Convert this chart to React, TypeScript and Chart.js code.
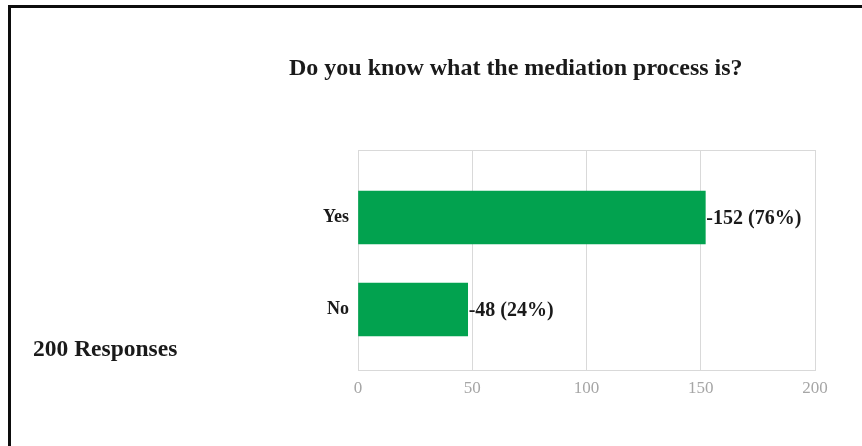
import React, { useEffect, useRef } from "react";
import { Chart, registerables } from "chart.js";

Chart.register(...registerables);

const titleText = "Do you know what the mediation process is?";
const responsesText = "200 Responses";
const categories = ["Yes", "No"];
const counts = [152, 48];
const percents = [76, 24];
const xMin = 0;
const xMax = 200;
const xStep = 50;

const SERIF = '"Liberation Serif", "Times New Roman", serif';
const GRID = "#d9d9d9";
const GREEN = "#02a24f";

const valueLabels = {
  id: "valueLabels",
  afterDatasetsDraw(chart: any) {
    const ctx = chart.ctx;
    const meta = chart.getDatasetMeta(0);
    ctx.save();
    ctx.font = `bold 20px ${SERIF}`;
    ctx.fillStyle = "#1a1a1a";
    ctx.textAlign = "left";
    ctx.textBaseline = "middle";
    meta.data.forEach((bar: any, i: number) => {
      ctx.fillText(`-${counts[i]} (${percents[i]}%)`, bar.x + 1, bar.y + 1);
    });
    ctx.restore();
  },
};

export default function App() {
  const ref = useRef<HTMLCanvasElement | null>(null);

  useEffect(() => {
    if (!ref.current) return;
    const chart = new Chart(ref.current, {
      type: "bar",
      data: {
        datasets: [
          {
            data: counts.map((v, i) => ({ x: v, y: i })),
            backgroundColor: GREEN,
            borderWidth: 0,
            barThickness: 53,
          },
        ],
      },
      plugins: [valueLabels],
      options: {
        indexAxis: "y",
        responsive: false,
        animation: false,
        layout: { padding: { top: 150, right: 47, bottom: 46, left: 0 } },
        plugins: {
          legend: { display: false },
          title: { display: false },
          tooltip: { enabled: false },
        },
        scales: {
          x: {
            type: "linear",
            min: xMin,
            max: xMax,
            ticks: {
              stepSize: xStep,
              color: "#a6a6a6",
              font: { family: SERIF, size: 17 },
              padding: 8,
            },
            grid: { color: GRID, drawTicks: false },
            border: { display: true, color: GRID },
            afterFit: (s: any) => {
              s.height = 30;
            },
          },
          y: {
            type: "linear",
            reverse: true,
            offset: false,
            min: -0.734,
            max: 1.658,
            afterBuildTicks: (s: any) => {
              s.ticks = [s.min, ...categories.map((_, i) => i), s.max].map((v) => ({ value: v }));
            },
            ticks: {
              autoSkip: false,
              color: "#1a1a1a",
              font: { family: SERIF, size: 18, weight: "bold" },
              padding: 9,
              callback: (v: any) => (Number.isInteger(v) ? categories[v] ?? "" : ""),
            },
            grid: {
              offset: false,
              drawTicks: false,
              color: (c: any) =>
                c.tick && Number.isInteger(c.tick.value) ? "rgba(0,0,0,0)" : GRID,
            },
            border: { display: true, color: GRID },
            afterFit: (s: any) => {
              s.width = 358;
            },
          },
        },
      },
    } as any);
    return () => chart.destroy();
  }, []);

  return (
    <div
      style={{
        position: "absolute",
        left: 0,
        top: 0,
        width: 862,
        height: 446,
        background: "#ffffff",
        overflow: "hidden",
      }}
    >
      <canvas
        ref={ref}
        width={862}
        height={446}
        style={{ position: "absolute", left: 0, top: 0 }}
      />
      <div
        style={{
          position: "absolute",
          left: 8,
          top: 5,
          width: 860,
          height: 450,
          borderTop: "3px solid #0d0d0d",
          borderLeft: "3px solid #0d0d0d",
          boxSizing: "border-box",
          pointerEvents: "none",
        }}
      />
      <div
        style={{
          position: "absolute",
          left: 289,
          top: 55,
          font: `bold 24px ${SERIF}`,
          lineHeight: 1,
          color: "#1a1a1a",
          whiteSpace: "nowrap",
        }}
      >
        {titleText}
      </div>
      <div
        style={{
          position: "absolute",
          left: 33,
          top: 337,
          font: `bold 23.5px ${SERIF}`,
          lineHeight: 1,
          color: "#1a1a1a",
          whiteSpace: "nowrap",
        }}
      >
        {responsesText}
      </div>
    </div>
  );
}
